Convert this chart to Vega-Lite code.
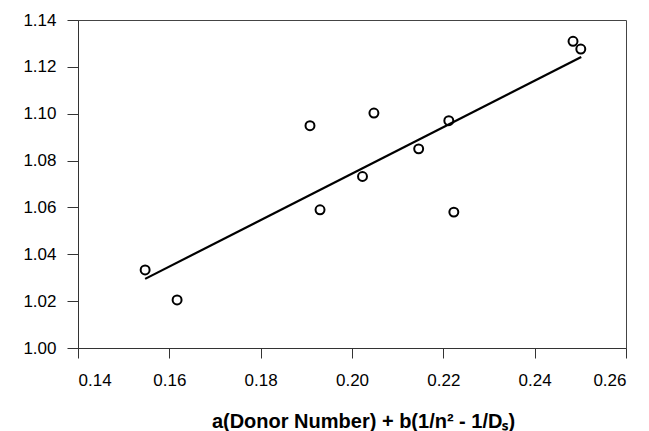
{
  "$schema": "https://vega.github.io/schema/vega-lite/v6.json",
  "width": 548,
  "height": 328,
  "autosize": "none",
  "padding": {"left": 78, "top": 20, "right": 23, "bottom": 83},
  "background": "white",
  "config": {
    "view": {"stroke": "#444", "strokeWidth": 1},
    "font": "Liberation Sans"
  },
  "datasets": {
    "points": [
      {"x": 0.1547, "y": 1.0333},
      {"x": 0.1617, "y": 1.0205},
      {"x": 0.1908, "y": 1.0949},
      {"x": 0.1930, "y": 1.0590},
      {"x": 0.2023, "y": 1.0732},
      {"x": 0.2048, "y": 1.1003},
      {"x": 0.2146, "y": 1.0850},
      {"x": 0.2212, "y": 1.0970},
      {"x": 0.2223, "y": 1.0580},
      {"x": 0.2484, "y": 1.1309},
      {"x": 0.2501, "y": 1.1276}
    ],
    "fit": [
      {"x": 0.1547, "y": 1.0295},
      {"x": 0.2502, "y": 1.1242}
    ]
  },
  "layer": [
    {
      "data": {"name": "fit"},
      "mark": {"type": "line", "color": "black", "strokeWidth": 2.2},
      "encoding": {
        "x": {"field": "x", "type": "quantitative"},
        "y": {"field": "y", "type": "quantitative"}
      }
    },
    {
      "data": {"name": "points"},
      "mark": {"type": "point", "shape": "circle", "filled": false, "color": "black", "size": 80, "strokeWidth": 2, "opacity": 1},
      "encoding": {
        "x": {
          "field": "x", "type": "quantitative",
          "scale": {"domain": [0.14, 0.26], "nice": false, "zero": false},
          "axis": {
            "values": [0.14, 0.16, 0.18, 0.2, 0.22, 0.24, 0.26],
            "format": ".2f",
            "grid": false,
            "domainColor": "#333",
            "tickColor": "#333",
            "tickSize": 10,
            "labelFontSize": 17,
            "labelColor": "black",
            "labelPadding": 14,
            "title": "a(Donor Number) + b(1/n² - 1/Dₛ)",
            "titleFontSize": 20,
            "titleFontWeight": "bold",
            "titleColor": "black",
            "titleBaseline": "alphabetic",
            "titleAlign": "center",
            "titleAnchor": "start",
            "titleX": 285,
            "titleY": 79
          }
        },
        "y": {
          "field": "y", "type": "quantitative",
          "scale": {"domain": [1.0, 1.14], "nice": false, "zero": false},
          "axis": {
            "values": [1.0, 1.02, 1.04, 1.06, 1.08, 1.1, 1.12, 1.14],
            "format": ".2f",
            "grid": false,
            "domainColor": "#333",
            "tickColor": "#333",
            "tickSize": 11,
            "labelFontSize": 17,
            "labelColor": "black",
            "labelPadding": 11,
            "title": null
          }
        }
      }
    }
  ]
}
